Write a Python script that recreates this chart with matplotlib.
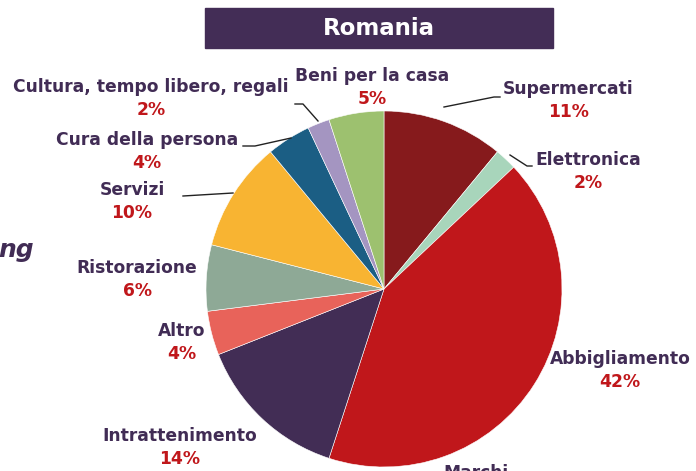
import matplotlib as mpl
mpl.use("Agg")
import matplotlib.pyplot as plt
from matplotlib.patches import Rectangle

# Romania: share of retail space by category (clockwise from 12 o'clock)
categories = ["Supermercati", "Elettronica", "Abbigliamento", "Intrattenimento",
              "Altro", "Ristorazione", "Servizi", "Cura della persona",
              "Cultura, tempo libero, regali", "Beni per la casa"]
shares = [11, 2, 42, 14, 4, 6, 10, 4, 2, 5]
colors = ["#861a1c", "#a8d5bb", "#c0171b", "#422d55", "#e8635a",
          "#8ea996", "#f8b432", "#1b5e84", "#a495c1", "#9dc16f"]

W, H = 696, 471
CX, CY, R = 384, 289, 178
PURPLE = "#412c55"
RED = "#c0171b"

fig = plt.figure(figsize=(W / 100, H / 100), dpi=100)

# pie axes, placed so the circle sits where it does in the slide
ax = fig.add_axes([(CX - R) / W, (H - CY - R) / H, 2 * R / W, 2 * R / H])
ax.pie(shares, colors=colors, startangle=90, counterclock=False,
       radius=1.0, wedgeprops=dict(linewidth=0.4, edgecolor="white"))
ax.set_xlim(-1, 1)
ax.set_ylim(-1, 1)
ax.set_aspect("equal")
ax.axis("off")

# overlay in pixel coordinates for labels, leader lines and title
ov = fig.add_axes([0, 0, 1, 1], facecolor="none")
ov.set_xlim(0, W)
ov.set_ylim(H, 0)
ov.axis("off")

ov.add_patch(Rectangle((205, 8), 348, 40, color="#432d56"))
ov.text(379, 28.5, "Romania", color="white", fontsize=16.5, fontweight="bold",
        ha="center", va="center")

# label centre (name line) for each slice
label_pos = {
    "Supermercati": (568, 89),
    "Elettronica": (588, 160),
    "Abbigliamento": (620, 359),
    "Intrattenimento": (180, 436),
    "Altro": (182, 331),
    "Ristorazione": (137, 268),
    "Servizi": (132, 190),
    "Cura della persona": (147, 140),
    "Cultura, tempo libero, regali": (151, 87),
    "Beni per la casa": (372, 76),
}
font = dict(fontsize=12.3, fontweight="bold", ha="center", va="center")
for name, val in zip(categories, shares):
    x, y = label_pos[name]
    ov.text(x, y, name, color=PURPLE, **font)
    ov.text(x, y + 23, f"{val}%", color=RED, **font)

# leader lines
leaders = [
    [(444, 107), (494, 97), (500, 97)],
    [(510, 155), (527, 166), (532, 166)],
    [(318, 121), (303, 104), (295, 104)],
    [(291, 138), (255, 146), (243, 146)],
    [(233, 193), (183, 196)],
]
for pts in leaders:
    xs, ys = zip(*pts)
    ov.plot(xs, ys, color="#222222", lw=1.0)

# fragments of the surrounding slide (cut off in the original too)
ov.text(-2, 250, "ng", color=PURPLE, fontsize=18, fontweight="bold",
        fontstyle="italic", ha="left", va="center")
ov.text(476, 473, "Marchi", color=PURPLE, fontsize=12.3, fontweight="bold",
        ha="center", va="center")

fig.savefig("out.png", dpi=100)
